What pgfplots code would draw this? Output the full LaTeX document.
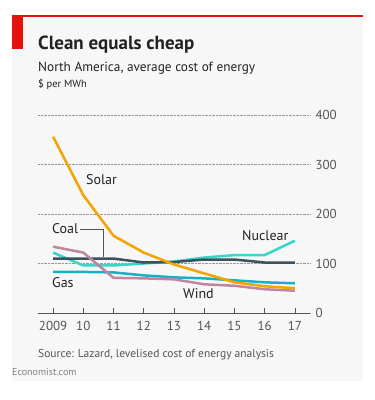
\documentclass[border=0pt]{standalone}
\usepackage{pgfplots}
\pgfplotsset{compat=1.18}
\usepackage{fontspec}
\setmainfont{PT Sans}
\definecolor{ecored}{HTML}{E3120B}
\definecolor{bg}{HTML}{F7F7F7}
\definecolor{solar}{HTML}{F5A300}
\definecolor{coal}{HTML}{3B525C}
\definecolor{nuclear}{HTML}{36D6C8}
\definecolor{gas}{HTML}{14B2C4}
\definecolor{wind}{HTML}{BE86A0}
\definecolor{txt}{HTML}{222222}
\definecolor{ticktxt}{HTML}{555555}
\begin{document}
\begin{tikzpicture}[x=1pt,y=1pt]
\path[use as bounding box] (0,0) rectangle (375,400);
\fill[bg] (12,400-16) rectangle (363,400-381);
\draw[ecored, line width=1.2pt] (12,400-16) -- (363,400-16);
\fill[ecored] (12,400-16) rectangle (23,400-49);
\node[anchor=base west, inner sep=0, text=txt] at (38,400-50) {\fontsize{19}{19}\selectfont\bfseries Clean equals cheap};
\node[anchor=base west, inner sep=0, text=txt] at (38,400-72) {\fontsize{13.3}{13.3}\selectfont North America, average cost of energy};
\node[anchor=base west, inner sep=0, text=txt] at (38,400-88) {\fontsize{10.5}{10.5}\selectfont \$ per MWh};
\node[anchor=base west, inner sep=0, text=ticktxt] at (38,400-358) {\fontsize{11.5}{11.5}\selectfont Source: Lazard, levelised cost of energy analysis};
\node[anchor=base west, inner sep=0, text=gray] at (12,400-376) {\fontsize{10}{10}\selectfont Economist.com};
\begin{axis}[
  at={(38pt,87pt)}, anchor=south west,
  scale only axis, width=272pt, height=198pt,
  xmin=2008.5, xmax=2017.5, ymin=0, ymax=400,
  clip=false,
  axis x line=bottom, axis y line=right,
  x axis line style={-, draw=ticktxt, line width=0.8pt},
  y axis line style={draw=none},
  ytick={0,100,200,300,400},
  ymajorgrids, grid style={densely dotted, draw=gray!80, line width=0.7pt},
  ytick style={draw=none},
  xtick={2009,...,2017},
  xticklabels={2009,10,11,12,13,14,15,16,17},
  xtick style={draw=ticktxt, line width=0.7pt},
  tick align=inside, major tick length=5pt,
  /pgf/number format/assume math mode=true,
  ticklabel style={font=\fontsize{13}{13}\selectfont, text=ticktxt},
  xticklabel style={yshift=-5pt},
  yticklabel style={xshift=2pt},
  every axis plot/.append style={line width=2.5pt, line join=round},
]
\addplot[nuclear] coordinates {(2009,122) (2010,96) (2011,96) (2012,100) (2013,104) (2014,112) (2015,117) (2016,117) (2017,146)};
\addplot[gas] coordinates {(2009,83) (2010,83) (2011,82) (2012,76) (2013,72) (2014,70) (2015,66) (2016,62) (2017,60)};
\addplot[coal] coordinates {(2009,110) (2010,110) (2011,110) (2012,102) (2013,103) (2014,108) (2015,108) (2016,102) (2017,102)};
\addplot[wind] coordinates {(2009,134) (2010,122) (2011,71) (2012,70) (2013,68) (2014,58) (2015,55) (2016,48) (2017,45)};
\addplot[solar] coordinates {(2009,356) (2010,238) (2011,156) (2012,122) (2013,98) (2014,80) (2015,62) (2016,54) (2017,50)};
\end{axis}
\node[anchor=base west, inner sep=0, text=txt] at (86,400-185) {\fontsize{14}{14}\selectfont Solar};
\node[anchor=base west, inner sep=0, text=txt] at (52,400-234) {\fontsize{14}{14}\selectfont Coal};
\draw[ticktxt, line width=0.5pt] (80,400-229) -- (103,400-229) -- (103,400-257);
\node[anchor=base west, inner sep=0, text=txt] at (242,400-241) {\fontsize{14}{14}\selectfont Nuclear};
\node[anchor=base west, inner sep=0, text=txt] at (52,400-288) {\fontsize{14}{14}\selectfont Gas};
\node[anchor=base west, inner sep=0, text=txt] at (183,400-299) {\fontsize{14}{14}\selectfont Wind};
\end{tikzpicture}
\end{document}
